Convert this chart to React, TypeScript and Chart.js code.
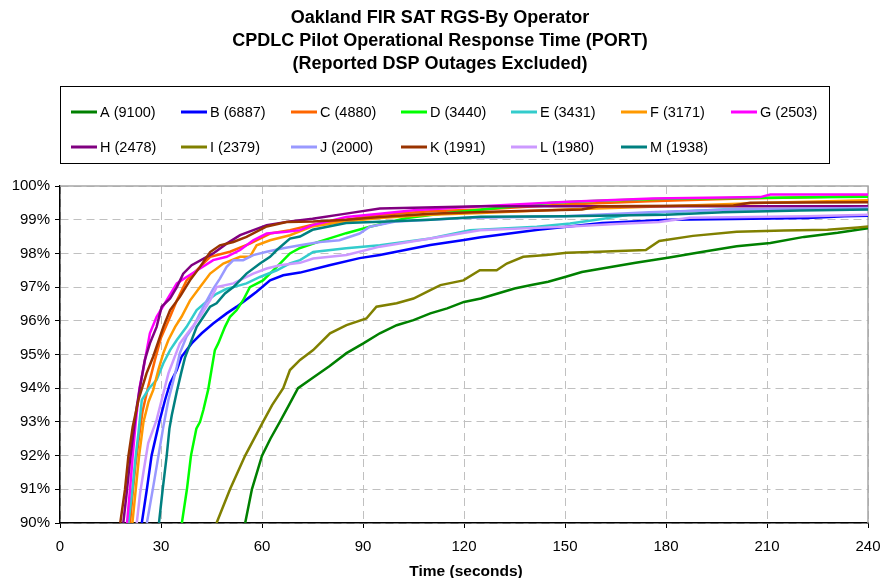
import React, { useEffect, useRef } from 'react';
import { Chart, registerables } from 'chart.js';

Chart.register(...registerables);

const FONT = '"Liberation Sans", Arial, sans-serif';

const titleLines = [
  'Oakland FIR SAT RGS-By Operator',
  'CPDLC Pilot Operational Response Time (PORT)',
  '(Reported DSP Outages Excluded)',
];
const xAxisTitle = 'Time (seconds)';

const seriesNames = [
  'A (9100)', 'B (6887)', 'C (4880)', 'D (3440)', 'E (3431)', 'F (3171)', 'G (2503)',
  'H (2478)', 'I (2379)', 'J (2000)', 'K (1991)', 'L (1980)', 'M (1938)',
];
const seriesColors = [
  '#008000', '#0000FF', '#FF6600', '#00FF00', '#33CCCC', '#FF9900', '#FF00FF',
  '#800080', '#808000', '#9999FF', '#993300', '#CC99FF', '#008080',
];

const xTicks = [0, 30, 60, 90, 120, 150, 180, 210, 240];
const yTicks = [90, 91, 92, 93, 94, 95, 96, 97, 98, 99, 100];

// time (seconds) / cumulative percent for each operator
const tA = [55, 57, 60, 62.5, 65.3, 68, 70.7, 75, 80, 85.1, 90.1, 95, 100, 105, 110, 115, 120, 125, 130, 135, 140, 145, 150, 155, 161, 171, 181, 191, 201, 211, 221, 231, 240];
const pA = [90, 91, 92, 92.5, 93, 93.5, 94, 94.3, 94.65, 95.04, 95.33, 95.63, 95.87, 96.02, 96.22, 96.37, 96.56, 96.66, 96.81, 96.96, 97.06, 97.16, 97.3, 97.45, 97.55, 97.72, 97.88, 98.05, 98.21, 98.31, 98.49, 98.61, 98.75];

const tB = [24.3, 25.8, 27.2, 29.5, 31.2, 32.7, 34.7, 36.1, 39.1, 42.1, 45.5, 49.5, 52.5, 56.4, 58.4, 62.4, 66.3, 71.3, 80, 89, 95, 110, 120, 125, 142, 161, 181, 200, 222, 233, 240];
const pB = [90, 91, 92, 93, 93.65, 94.15, 94.54, 94.93, 95.33, 95.63, 95.92, 96.22, 96.42, 96.71, 96.86, 97.2, 97.35, 97.43, 97.65, 97.86, 97.95, 98.25, 98.4, 98.48, 98.7, 98.9, 99.0, 99.02, 99.05, 99.1, 99.12];

const tC = [20.8, 21.6, 22.4, 23.4, 24.5, 26.2, 28.2, 30, 32.2, 34.7, 37.6, 41.6, 44.6, 50.5, 56.4, 62.4, 68.3, 75, 85, 95, 110, 125, 150, 175, 200, 240];
const pC = [90, 90.9, 91.7, 92.5, 93.3, 94.05, 94.84, 95.5, 96.0, 96.6, 97.2, 97.6, 97.9, 98.05, 98.29, 98.59, 98.69, 98.85, 99.0, 99.15, 99.25, 99.3, 99.45, 99.55, 99.62, 99.7];

const tD = [36.2, 37.7, 38.9, 40.5, 41.6, 42.6, 44, 45, 46, 47, 49, 50.5, 52.5, 54.4, 56.4, 60.3, 64.4, 68.3, 71.3, 77, 85, 92, 103, 115, 130, 146, 160, 180, 210, 240];
const pD = [90, 91, 92, 92.8, 93, 93.36, 93.95, 94.54, 95.13, 95.33, 95.82, 96.12, 96.32, 96.61, 97.0, 97.2, 97.6, 98.0, 98.16, 98.35, 98.6, 98.79, 99.05, 99.2, 99.35, 99.5, 99.56, 99.62, 99.65, 99.68];

const tE = [20.3, 21.5, 22.5, 23.3, 24.3, 26.5, 28.7, 30.7, 32.7, 34.7, 37.6, 40.6, 44.6, 46.5, 49.5, 51.5, 55.4, 59.4, 64.4, 68.3, 71.3, 75.2, 85, 95, 110, 121.8, 141.6, 151.5, 161.4, 171.3, 181, 197, 240];
const pE = [90, 91, 92, 92.67, 93.65, 94.0, 94.25, 94.74, 95.13, 95.43, 95.82, 96.32, 96.66, 96.8, 96.95, 97.0, 97.11, 97.3, 97.5, 97.7, 97.8, 98.04, 98.15, 98.24, 98.44, 98.69, 98.79, 98.89, 99.03, 99.18, 99.23, 99.3, 99.32];

const tF = [21.5, 22.5, 23.5, 24.8, 26.3, 27.7, 29.2, 30.7, 32.2, 34.2, 36.1, 38.6, 41.6, 44.6, 48.5, 53.5, 56.4, 58.4, 62.4, 68.3, 75, 85, 95, 110, 125, 150, 180, 210, 240];
const pF = [90, 91, 92, 93, 93.6, 93.95, 94.54, 95.04, 95.43, 95.82, 96.12, 96.6, 97.0, 97.4, 97.7, 97.9, 97.9, 98.24, 98.39, 98.54, 98.8, 98.95, 99.05, 99.15, 99.2, 99.3, 99.4, 99.5, 99.58];

const tG = [19.9, 20.8, 21.6, 22.5, 23.6, 24.7, 26.7, 28.7, 31.7, 34.7, 37.6, 41.6, 45.5, 49.5, 53.5, 57.4, 61.4, 67.3, 71.3, 75, 85, 95, 105, 125, 151, 176, 208, 211, 240];
const pG = [90, 91, 92, 93, 94, 94.54, 95.63, 96.12, 96.61, 97.11, 97.3, 97.55, 97.8, 97.9, 98.1, 98.39, 98.59, 98.64, 98.69, 98.84, 99.08, 99.18, 99.28, 99.4, 99.53, 99.63, 99.67, 99.75, 99.75];

const tH = [18.8, 19.8, 20.8, 21.8, 22.8, 23.8, 25.2, 26.7, 28.7, 30.2, 32.7, 34.7, 36.6, 39.1, 45.5, 49.5, 53.5, 61.4, 68.3, 75, 85, 95, 125, 240];
const pH = [90, 90.89, 91.87, 92.67, 93.45, 94.05, 94.84, 95.33, 95.82, 96.42, 96.66, 97.0, 97.4, 97.65, 98.0, 98.29, 98.54, 98.84, 98.95, 99.03, 99.18, 99.33, 99.4, 99.4];

const tI = [46.5, 50.5, 55, 60.3, 63, 66.3, 68.3, 71.3, 75.2, 80.2, 85.1, 91, 94, 100, 105, 110, 113, 119.8, 124.7, 129.7, 132.7, 137.6, 144.5, 150.5, 160, 174, 178, 188, 201, 215, 228, 237, 240];
const pI = [90, 91, 92, 93, 93.5, 94, 94.54, 94.84, 95.13, 95.63, 95.87, 96.07, 96.42, 96.52, 96.66, 96.91, 97.06, 97.2, 97.5, 97.5, 97.7, 97.9, 97.95, 98.02, 98.05, 98.1, 98.37, 98.52, 98.64, 98.68, 98.7, 98.77, 98.8];

const tJ = [25.8, 27.7, 29.2, 30.7, 32.2, 33.7, 34.7, 35.6, 37.6, 39.6, 41.6, 43.6, 45.5, 47.5, 49.5, 51.5, 54.4, 57.4, 61.4, 66.3, 71.3, 77.2, 83, 89, 92, 100, 120, 150, 175, 200, 240];
const pJ = [90, 91.08, 91.97, 92.86, 93.65, 94.24, 94.64, 95.04, 95.53, 95.82, 96.22, 96.6, 96.95, 97.25, 97.6, 97.8, 97.8, 97.95, 98.05, 98.15, 98.24, 98.34, 98.39, 98.59, 98.79, 98.95, 99.05, 99.1, 99.22, 99.3, 99.35];

const tK = [17.9, 19.3, 20.3, 21.6, 23.3, 25.7, 27.7, 30.7, 32.7, 35.6, 38.6, 41.6, 44.6, 47.5, 51.5, 55.4, 61.4, 67.3, 75.2, 85.1, 95, 110, 125, 155, 160, 200, 205, 240];
const pK = [90, 90.99, 91.97, 92.86, 93.65, 94.44, 94.94, 95.82, 96.32, 96.71, 97.2, 97.6, 98.04, 98.24, 98.34, 98.49, 98.8, 98.93, 98.95, 99.0, 99.08, 99.18, 99.23, 99.3, 99.4, 99.42, 99.5, 99.52];

const tL = [22.8, 23.8, 24.9, 26.2, 28.7, 30.7, 32.2, 35.6, 38.6, 41.6, 44.6, 46.5, 51.5, 57.4, 61.4, 65.3, 71.3, 75.2, 85.1, 95, 110, 124.7, 140, 151.5, 165, 178, 187, 222, 240];
const pL = [90, 90.89, 91.58, 92.37, 93.06, 93.85, 94.44, 95.33, 95.73, 96.12, 96.61, 97.0, 97.11, 97.4, 97.55, 97.65, 97.72, 97.85, 97.95, 98.2, 98.44, 98.69, 98.75, 98.8, 98.87, 98.93, 99.06, 99.1, 99.15];

const tM = [29.4, 30.5, 31.7, 32.5, 33.2, 34.7, 36.1, 37.1, 38.6, 40.6, 42.6, 44.6, 46.5, 49, 51.5, 55.4, 59.4, 62.4, 64.4, 68.3, 71.3, 75, 85, 95, 110, 125, 150, 180, 197, 220, 240];
const pM = [90, 91, 92, 92.8, 93.2, 93.9, 94.5, 94.9, 95.3, 95.82, 96.12, 96.42, 96.52, 96.81, 97.0, 97.4, 97.7, 97.9, 98.1, 98.44, 98.5, 98.7, 98.9, 98.94, 99.0, 99.09, 99.1, 99.15, 99.22, 99.27, 99.3];

const seriesTimes = [tA, tB, tC, tD, tE, tF, tG, tH, tI, tJ, tK, tL, tM];
const seriesPcts = [pA, pB, pC, pD, pE, pF, pG, pH, pI, pJ, pK, pL, pM];

const decorPlugin = {
  id: 'decor',
  beforeDatasetsDraw(chart: any) {
    const { ctx, chartArea } = chart;
    ctx.save();
    ctx.strokeStyle = '#a6a6a6';
    ctx.lineWidth = 1.5;
    ctx.beginPath();
    ctx.moveTo(chartArea.left, chartArea.top);
    ctx.lineTo(chartArea.right, chartArea.top);
    ctx.lineTo(chartArea.right, chartArea.bottom);
    ctx.stroke();
    ctx.restore();
  },
  afterDraw(chart: any) {
    const { ctx } = chart;
    ctx.save();
    ctx.fillStyle = '#000';
    ctx.textAlign = 'center';
    ctx.textBaseline = 'middle';
    ctx.font = `bold 18px ${FONT}`;
    titleLines.forEach((line, i) => ctx.fillText(line, 440, 18 + i * 23));

    // legend box
    ctx.strokeStyle = '#000';
    ctx.lineWidth = 1;
    ctx.strokeRect(60.5, 86.5, 769, 77);
    ctx.font = `14.5px ${FONT}`;
    ctx.textAlign = 'left';
    seriesNames.forEach((name, i) => {
      const col = i % 7;
      const row = Math.floor(i / 7);
      const tx = 100 + col * 110;
      const ty = row === 0 ? 112 : 147;
      ctx.strokeStyle = seriesColors[i];
      ctx.lineWidth = 3;
      ctx.beginPath();
      ctx.moveTo(tx - 29, ty);
      ctx.lineTo(tx - 3, ty);
      ctx.stroke();
      ctx.fillStyle = '#000';
      ctx.fillText(name, tx, ty + 1);
    });

    ctx.textAlign = 'center';
    ctx.font = `bold 15.5px ${FONT}`;
    ctx.fillText(xAxisTitle, (chart.chartArea.left + chart.chartArea.right) / 2 + 2, 572);
    ctx.restore();
  },
};

export default function App() {
  const canvasRef = useRef<HTMLCanvasElement | null>(null);

  useEffect(() => {
    const canvas = canvasRef.current;
    if (!canvas) return;
    const datasets = seriesNames.map((name, i) => ({
      label: name,
      data: seriesTimes[i].map((t, j) => ({ x: t, y: seriesPcts[i][j] })),
      borderColor: seriesColors[i],
      backgroundColor: seriesColors[i],
      borderWidth: 2.5,
      pointRadius: 0,
      tension: 0,
      fill: false,
      order: seriesNames.length - 1 - i,
    }));

    const chart = new Chart(canvas, {
      type: 'line',
      data: { datasets },
      plugins: [decorPlugin],
      options: {
        responsive: false,
        animation: false,
        devicePixelRatio: 1,
        layout: { padding: { top: 186, right: 16, bottom: 0, left: 0 } },
        plugins: {
          legend: { display: false },
          title: { display: false },
          tooltip: { enabled: false },
        },
        scales: {
          x: {
            type: 'linear',
            min: 0,
            max: 240,
            afterFit: (scale: any) => {
              scale.height = 55;
              scale.paddingLeft = 0;
              scale.paddingRight = 0;
            },
            afterBuildTicks: (scale: any) => { scale.ticks = xTicks.map((v) => ({ value: v })); },
            ticks: {
              color: '#000',
              padding: 10,
              maxRotation: 0,
              font: { family: FONT, size: 15 },
              callback: (v: any) => String(v),
            },
            grid: {
              color: '#c0c0c0',
              lineWidth: 1,
              tickLength: 5,
              tickColor: '#000',
              tickWidth: 1,
              tickBorderDash: [],
            },
            border: { display: true, color: '#000', width: 1.5, dash: [8, 5] },
          },
          y: {
            type: 'linear',
            min: 90,
            max: 100,
            afterFit: (scale: any) => {
              scale.width = 60;
              scale.paddingTop = 0;
              scale.paddingBottom = 0;
            },
            afterBuildTicks: (scale: any) => { scale.ticks = yTicks.map((v) => ({ value: v })); },
            ticks: {
              color: '#000',
              padding: 5,
              font: { family: FONT, size: 15 },
              callback: (v: any) => `${v}%`,
            },
            grid: {
              color: '#c0c0c0',
              lineWidth: 1,
              tickLength: 5,
              tickColor: '#000',
              tickWidth: 1,
              tickBorderDash: [],
            },
            border: { display: true, color: '#000', width: 1.5, dash: [8, 5] },
          },
        },
      } as any,
    });
    return () => chart.destroy();
  }, []);

  return (
    <div style={{ position: 'absolute', left: 0, top: 0, width: 884, height: 578, background: '#fff' }}>
      <canvas ref={canvasRef} width={884} height={578} style={{ display: 'block', width: 884, height: 578 }} />
    </div>
  );
}
